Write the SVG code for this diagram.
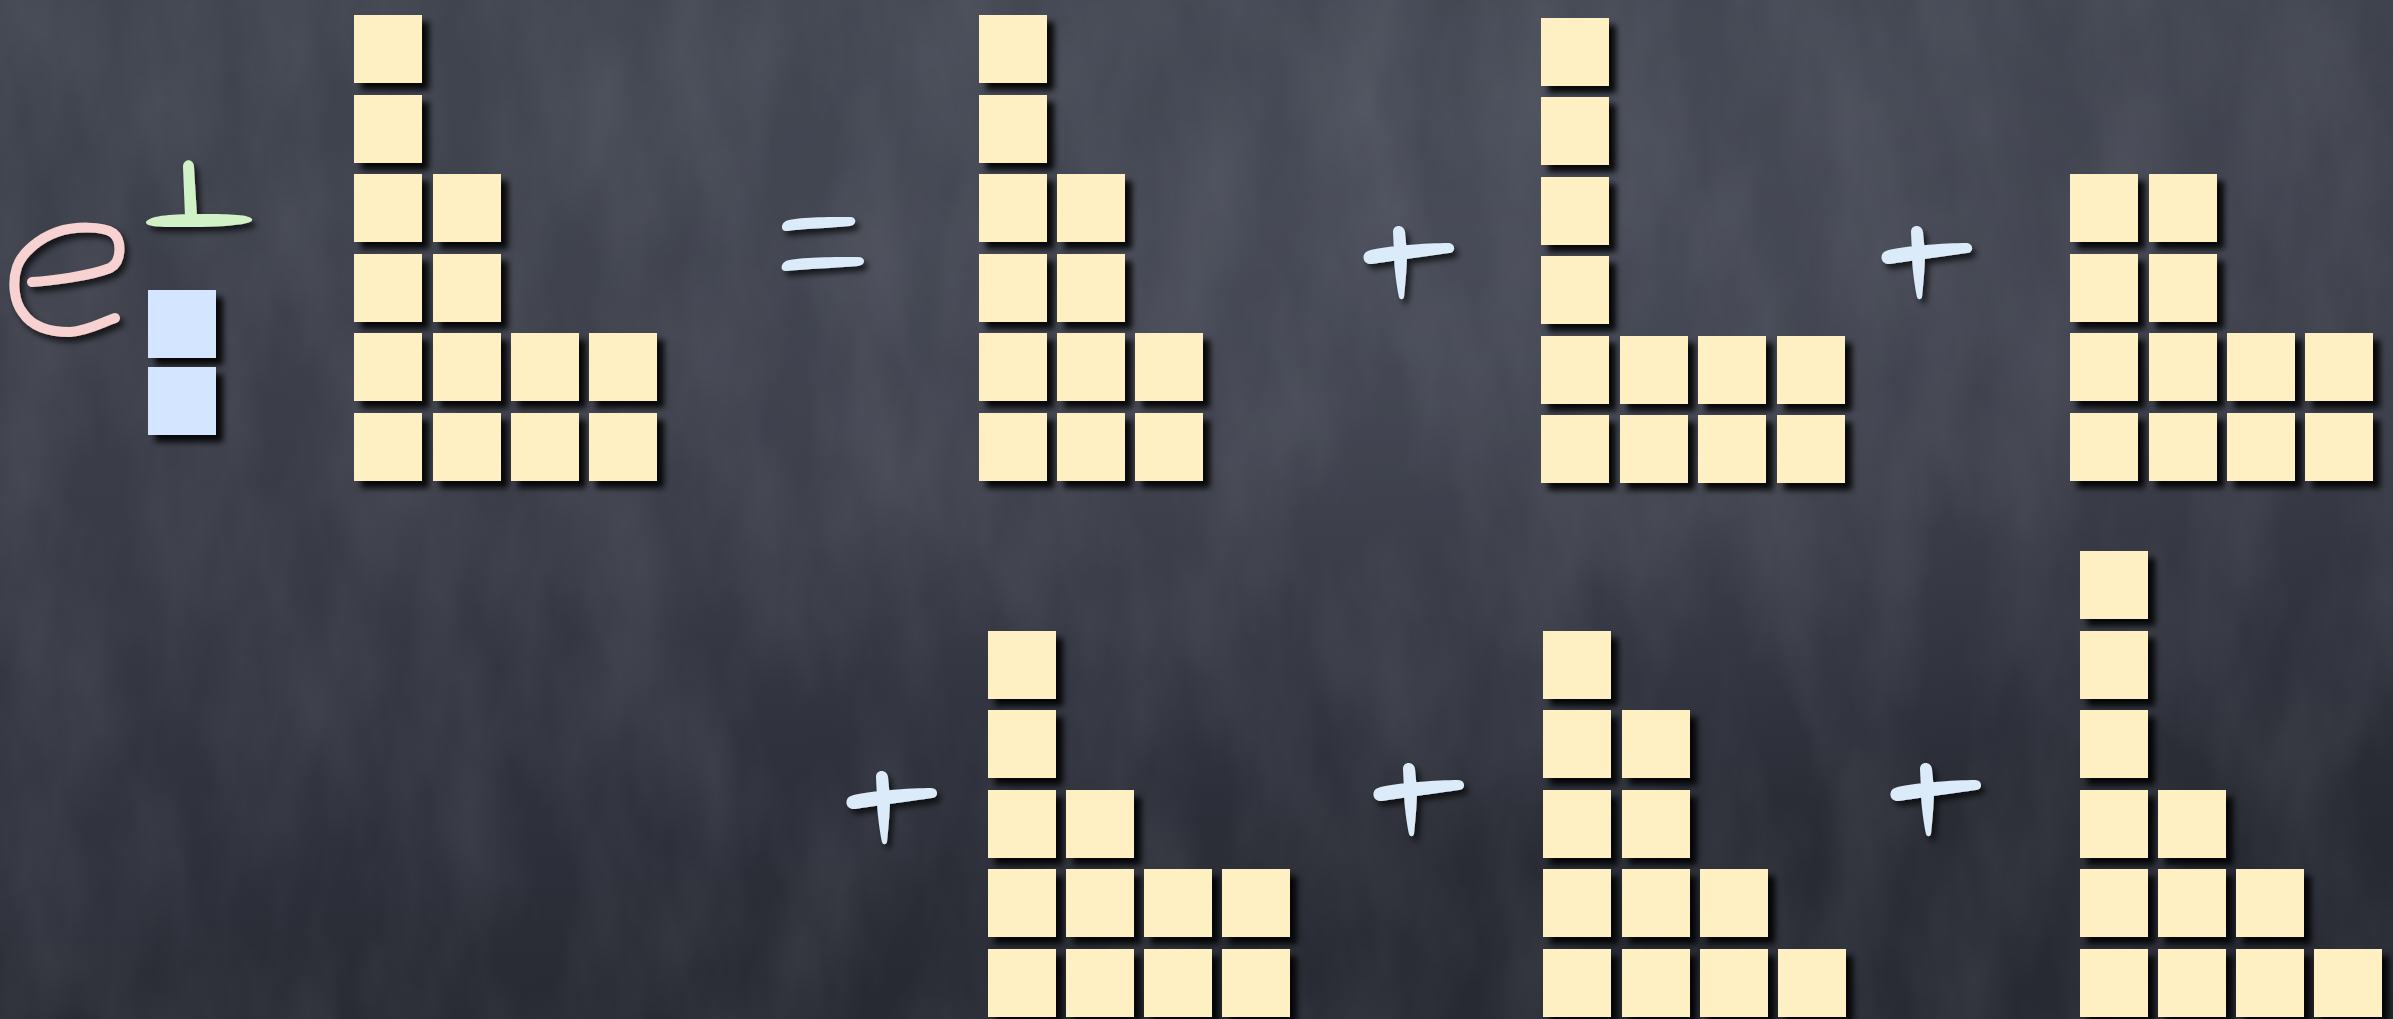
<svg xmlns="http://www.w3.org/2000/svg" xmlns:xlink="http://www.w3.org/1999/xlink" width="2393" height="1019" viewBox="0 0 2393 1019">
<defs>
  <linearGradient id="bg" x1="0" y1="0" x2="0.25" y2="1">
    <stop offset="0" stop-color="#40444f"/>
    <stop offset="0.5" stop-color="#393c47"/>
    <stop offset="1" stop-color="#272a33"/>
  </linearGradient>
  <radialGradient id="glow" cx="0.62" cy="0.25" r="0.55">
    <stop offset="0" stop-color="#555966" stop-opacity="0.5"/>
    <stop offset="1" stop-color="#555966" stop-opacity="0"/>
  </radialGradient>
  <filter id="noise" x="0" y="0" width="100%" height="100%">
    <feTurbulence type="fractalNoise" baseFrequency="0.012 0.005" numOctaves="4" seed="7"/>
    <feColorMatrix type="matrix" values="0 0 0 0 0.78  0 0 0 0 0.8  0 0 0 0 0.88  0.14 0 0 0 -0.045"/>
  </filter>
  <filter id="sh" x="-20%" y="-20%" width="140%" height="140%">
    <feDropShadow dx="7" dy="7" stdDeviation="3" flood-color="#000" flood-opacity="0.9"/>
  </filter>
  <filter id="shs" x="-20%" y="-20%" width="140%" height="140%">
    <feDropShadow dx="4" dy="5" stdDeviation="3" flood-color="#000" flood-opacity="0.7"/>
  </filter>
  <path id="plus" d="M -32,-2 C -20,-7 30,-10 48,-10 C 56,-10 56,0 49,0 C 30,3 -10,8 -28,11 C -38,12 -39,0 -32,-2 Z M -7,-21 C -7,-29 4,-29 5,-21 L 7,0 C 7,15 5,35 4,44 C 3,47 0,47 -1,44 C -3,35 -6,15 -6,0 Z"/>
  <style>
    .c { fill: #fff0c4; }
    .b { fill: #d4e6ff; }
    .sym { fill: #dcebfa; }
  </style>
</defs>

<rect x="0" y="0" width="2393" height="1019" fill="url(#bg)"/>
<rect x="0" y="0" width="2393" height="1019" fill="url(#glow)"/>
<rect x="0" y="0" width="2393" height="1019" filter="url(#noise)"/>

<g id="exponent" filter="url(#shs)">
  <path d="M 32,282 C 50,281 90,276 110,268 C 122,262 122,240 113,233 C 103,226 75,226 57,232 C 40,238 22,252 17,267 C 12,282 14,302 23,313 C 31,325 45,332 70,332 C 87,331 103,322 115,318" fill="none" stroke="#f8d1d1" stroke-width="10" stroke-linecap="round" stroke-linejoin="round"/>
  <path d="M 183,167 C 183,158 194,158 194,167 L 197,216 L 185,216 Z" fill="#d0f2c6"/>
  <path d="M 146,222 C 150,215 175,214 200,214 C 225,214 248,214 252,219 C 254,223 240,226 200,227 C 170,227 145,228 146,222 Z" fill="#d0f2c6"/>
</g>

<g id="operand" filter="url(#sh)">
  <rect class="b" x="148" y="290" width="68" height="68"/>
  <rect class="b" x="148" y="367" width="68" height="68"/>
</g>

<g id="d1" filter="url(#sh)">
  <rect class="c" x="354" y="15" width="68" height="68"/>
  <rect class="c" x="354" y="95" width="68" height="68"/>
  <rect class="c" x="354" y="174" width="68" height="68"/>
  <rect class="c" x="433" y="174" width="68" height="68"/>
  <rect class="c" x="354" y="254" width="68" height="68"/>
  <rect class="c" x="433" y="254" width="68" height="68"/>
  <rect class="c" x="354" y="333" width="68" height="68"/>
  <rect class="c" x="433" y="333" width="68" height="68"/>
  <rect class="c" x="511" y="333" width="68" height="68"/>
  <rect class="c" x="589" y="333" width="68" height="68"/>
  <rect class="c" x="354" y="413" width="68" height="68"/>
  <rect class="c" x="433" y="413" width="68" height="68"/>
  <rect class="c" x="511" y="413" width="68" height="68"/>
  <rect class="c" x="589" y="413" width="68" height="68"/>
</g>

<g id="equals" class="sym" filter="url(#shs)">
  <path d="M 786,221 C 795,217 830,217 850,217 C 857,217 857,225 850,226 C 830,228 800,229 787,231 C 781,232 780,224 786,221 Z"/>
  <path d="M 786,261 C 795,257 840,257 858,257 C 866,257 866,265 858,266 C 835,268 805,269 787,271 C 780,272 780,264 786,261 Z"/>
</g>

<g id="d2" filter="url(#sh)">
  <rect class="c" x="979" y="15" width="68" height="68"/>
  <rect class="c" x="979" y="95" width="68" height="68"/>
  <rect class="c" x="979" y="174" width="68" height="68"/>
  <rect class="c" x="1057" y="174" width="68" height="68"/>
  <rect class="c" x="979" y="254" width="68" height="68"/>
  <rect class="c" x="1057" y="254" width="68" height="68"/>
  <rect class="c" x="979" y="333" width="68" height="68"/>
  <rect class="c" x="1057" y="333" width="68" height="68"/>
  <rect class="c" x="1135" y="333" width="68" height="68"/>
  <rect class="c" x="979" y="413" width="68" height="68"/>
  <rect class="c" x="1057" y="413" width="68" height="68"/>
  <rect class="c" x="1135" y="413" width="68" height="68"/>
</g>

<g id="plus1" class="sym" filter="url(#shs)"><use xlink:href="#plus" href="#plus" x="1400" y="253"/></g>

<g id="d3" filter="url(#sh)">
  <rect class="c" x="1541" y="18" width="68" height="68"/>
  <rect class="c" x="1541" y="97" width="68" height="68"/>
  <rect class="c" x="1541" y="177" width="68" height="68"/>
  <rect class="c" x="1541" y="256" width="68" height="68"/>
  <rect class="c" x="1541" y="336" width="68" height="68"/>
  <rect class="c" x="1620" y="336" width="68" height="68"/>
  <rect class="c" x="1698" y="336" width="68" height="68"/>
  <rect class="c" x="1777" y="336" width="68" height="68"/>
  <rect class="c" x="1541" y="415" width="68" height="68"/>
  <rect class="c" x="1620" y="415" width="68" height="68"/>
  <rect class="c" x="1698" y="415" width="68" height="68"/>
  <rect class="c" x="1777" y="415" width="68" height="68"/>
</g>

<g id="plus2" class="sym" filter="url(#shs)"><use xlink:href="#plus" href="#plus" x="1918" y="253"/></g>

<g id="d4" filter="url(#sh)">
  <rect class="c" x="2070" y="174" width="68" height="68"/>
  <rect class="c" x="2149" y="174" width="68" height="68"/>
  <rect class="c" x="2070" y="254" width="68" height="68"/>
  <rect class="c" x="2149" y="254" width="68" height="68"/>
  <rect class="c" x="2070" y="333" width="68" height="68"/>
  <rect class="c" x="2149" y="333" width="68" height="68"/>
  <rect class="c" x="2227" y="333" width="68" height="68"/>
  <rect class="c" x="2305" y="333" width="68" height="68"/>
  <rect class="c" x="2070" y="413" width="68" height="68"/>
  <rect class="c" x="2149" y="413" width="68" height="68"/>
  <rect class="c" x="2227" y="413" width="68" height="68"/>
  <rect class="c" x="2305" y="413" width="68" height="68"/>
</g>

<g id="plus3" class="sym" filter="url(#shs)"><use xlink:href="#plus" href="#plus" x="883" y="798"/></g>

<g id="d5" filter="url(#sh)">
  <rect class="c" x="988" y="631" width="68" height="68"/>
  <rect class="c" x="988" y="710" width="68" height="68"/>
  <rect class="c" x="988" y="790" width="68" height="68"/>
  <rect class="c" x="1066" y="790" width="68" height="68"/>
  <rect class="c" x="988" y="869" width="68" height="68"/>
  <rect class="c" x="1066" y="869" width="68" height="68"/>
  <rect class="c" x="1144" y="869" width="68" height="68"/>
  <rect class="c" x="1222" y="869" width="68" height="68"/>
  <rect class="c" x="988" y="949" width="68" height="68"/>
  <rect class="c" x="1066" y="949" width="68" height="68"/>
  <rect class="c" x="1144" y="949" width="68" height="68"/>
  <rect class="c" x="1222" y="949" width="68" height="68"/>
</g>

<g id="plus4" class="sym" filter="url(#shs)"><use xlink:href="#plus" href="#plus" x="1410" y="790"/></g>

<g id="d6" filter="url(#sh)">
  <rect class="c" x="1543" y="631" width="68" height="68"/>
  <rect class="c" x="1543" y="710" width="68" height="68"/>
  <rect class="c" x="1622" y="710" width="68" height="68"/>
  <rect class="c" x="1543" y="790" width="68" height="68"/>
  <rect class="c" x="1622" y="790" width="68" height="68"/>
  <rect class="c" x="1543" y="869" width="68" height="68"/>
  <rect class="c" x="1622" y="869" width="68" height="68"/>
  <rect class="c" x="1700" y="869" width="68" height="68"/>
  <rect class="c" x="1543" y="949" width="68" height="68"/>
  <rect class="c" x="1622" y="949" width="68" height="68"/>
  <rect class="c" x="1700" y="949" width="68" height="68"/>
  <rect class="c" x="1778" y="949" width="68" height="68"/>
</g>

<g id="plus5" class="sym" filter="url(#shs)"><use xlink:href="#plus" href="#plus" x="1927" y="790"/></g>

<g id="d7" filter="url(#sh)">
  <rect class="c" x="2080" y="551" width="68" height="68"/>
  <rect class="c" x="2080" y="631" width="68" height="68"/>
  <rect class="c" x="2080" y="710" width="68" height="68"/>
  <rect class="c" x="2080" y="790" width="68" height="68"/>
  <rect class="c" x="2158" y="790" width="68" height="68"/>
  <rect class="c" x="2080" y="869" width="68" height="68"/>
  <rect class="c" x="2158" y="869" width="68" height="68"/>
  <rect class="c" x="2236" y="869" width="68" height="68"/>
  <rect class="c" x="2080" y="949" width="68" height="68"/>
  <rect class="c" x="2158" y="949" width="68" height="68"/>
  <rect class="c" x="2236" y="949" width="68" height="68"/>
  <rect class="c" x="2314" y="949" width="68" height="68"/>
</g>

<g id="connectors"></g>
</svg>
